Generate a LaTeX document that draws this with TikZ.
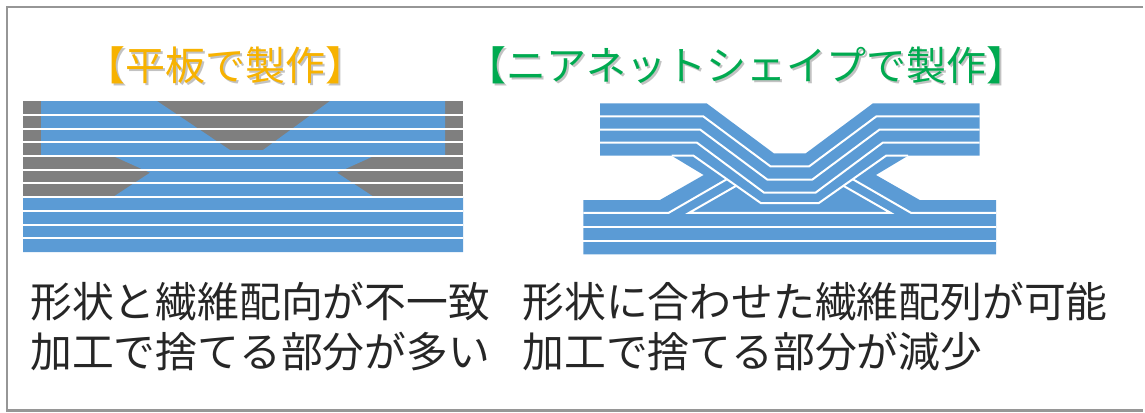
\documentclass[tikz,border=0pt]{standalone}
\usepackage{fontspec}
\newfontfamily\jp{Noto Sans CJK JP}
\definecolor{fiberblue}{RGB}{91,155,213}
\definecolor{cutgray}{RGB}{127,127,127}
\definecolor{framegray}{RGB}{150,150,150}
\definecolor{flatorange}{RGB}{247,178,0}
\definecolor{netgreen}{RGB}{0,170,80}
\begin{document}
\begin{tikzpicture}[x=0.5pt,y=-0.5pt,
  fiberline/.style={draw=white,line width=1pt,line join=miter},
  title/.style={inner sep=0,font=\jp\fontsize{20pt}{22pt}\selectfont},
  shadow/.style={title,text=black!40,opacity=0.6},
  caption/.style={inner sep=0,anchor=west,font=\jp\fontsize{20.9pt}{24pt}\selectfont,text=black!85}]
\useasboundingbox (0,0) rectangle (1145,412);
% outer frame
\draw[framegray,line width=1.2pt] (1143,7) -- (7,7) -- (7,410.5) -- (1143,410.5);

% ---------- flat plate: cut shape on a laminated plate ----------
\fill[cutgray] (23,101) rectangle (463,252);
\fill[fiberblue] (41,101) -- (157,101) -- (230,150) -- (263,150) -- (330,101) -- (445,101)
  -- (445,156) -- (374,156) -- (337,172.7) -- (374,197) -- (463,197) -- (463,252)
  -- (23,252) -- (23,197) -- (113,197) -- (150,172.7) -- (113,156) -- (41,156) -- cycle;
\foreach \y in {114.7,128.5,142.2,155.9,169.6,183.4,197.1,210.8,224.6,238.3}
  \draw[fiberline] (23,\y) -- (463,\y);

% ---------- near net shape: fibres follow the outline ----------
\fill[fiberblue] (600,103.3) -- (706.6,103.3) -- (773.8,153.3) -- (805.8,153.3) -- (873,103.3)
  -- (979.6,103.3) -- (979.6,155.7) -- (908,155.7) -- (875.9,175) -- (919.7,200)
  -- (996.2,200) -- (996.2,254.3) -- (583.4,254.3) -- (583.4,200) -- (659.9,200)
  -- (703.7,175) -- (671.6,155.7) -- (600,155.7) -- cycle;
% upper layers dipping through the middle
\draw[fiberline] (600,116.4) -- (703.3,116.4) -- (770.5,166.4) -- (809.1,166.4) -- (876.3,116.4) -- (979.6,116.4);
\draw[fiberline] (600,129.5) -- (700,129.5) -- (767.2,179.5) -- (812.4,179.5) -- (879.6,129.5) -- (979.6,129.5);
\draw[fiberline] (600,142.6) -- (696.8,142.6) -- (764,192.6) -- (815.6,192.6) -- (882.8,142.6) -- (979.6,142.6);
\draw[fiberline] (671.6,155.7) -- (693.5,155.7) -- (760.7,203) -- (818.9,203) -- (886.1,155.7) -- (908,155.7);
% rising layers meeting the dipping ones
\draw[fiberline] (583.4,212.8) -- (668.7,212.8) -- (726.9,179.2);
\draw[fiberline] (996.2,212.8) -- (910.9,212.8) -- (852.7,179.2);
\draw[fiberline] (736.2,185.8) -- (689.1,212.8) -- (890.5,212.8) -- (843.4,185.8);
% lower straight layers
\foreach \y in {227,240.6}
  \draw[fiberline] (583.4,\y) -- (996.2,\y);

% ---------- titles ----------
\node[shadow] (flatShadow) at (227,67) {【平板で製作】};
\node[title,text=flatorange] (flatTitle) at (225.5,65) {【平板で製作】};
\node[shadow] (netShadow) at (748,67) {【ニアネットシェイプで製作】};
\node[title,text=netgreen] (netTitle) at (746.5,65) {【ニアネットシェイプで製作】};

% ---------- captions ----------
\node[caption] (flatLineA) at (30,302) {形状と繊維配向が不一致};
\node[caption] (flatLineB) at (30,352) {加工で捨てる部分が多い};
\node[caption] (netLineA) at (522,302) {形状に合わせた繊維配列が可能};
\node[caption] (netLineB) at (522,352) {加工で捨てる部分が減少};
\end{tikzpicture}
\end{document}
